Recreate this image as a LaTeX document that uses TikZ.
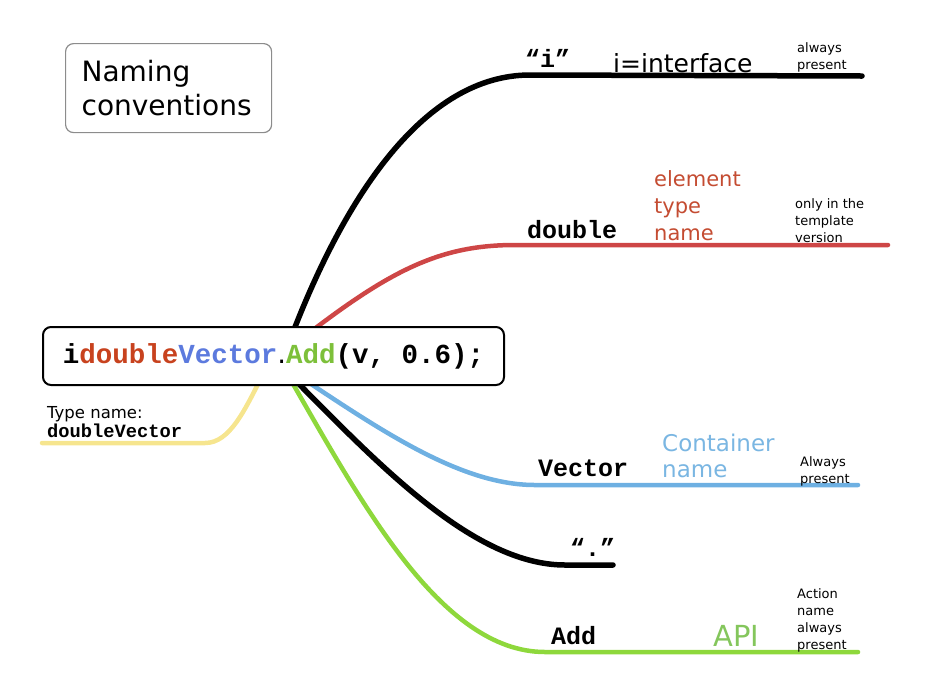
\documentclass[tikz,border=0pt]{standalone}
\usepackage{fontspec}
\setsansfont{DejaVu Sans}
\setmonofont{Liberation Mono}
\usetikzlibrary{backgrounds}

\definecolor{codered}{RGB}{200,66,30}
\definecolor{codeblue}{RGB}{92,122,222}
\definecolor{codegreen}{RGB}{125,192,58}
\definecolor{linered}{RGB}{206,70,70}
\definecolor{lineblue}{RGB}{110,176,226}
\definecolor{linegreen}{RGB}{142,216,60}
\definecolor{lineyellow}{RGB}{246,229,142}
\definecolor{textred}{RGB}{196,76,50}
\definecolor{textblue}{RGB}{122,182,226}
\definecolor{textgreen}{RGB}{132,198,92}

\begin{document}
\begin{tikzpicture}[x=1pt,y=-1pt,
  branch/.style={line width=4.5pt,line cap=round},
  code part/.style={font=\ttfamily\bfseries\fontsize{25}{25}\selectfont,inner sep=0pt,anchor=base west},
  part name/.style={font=\sffamily,inner sep=0pt,align=left,anchor=north west},
  note/.style={font=\sffamily\fontsize{13}{17}\selectfont,inner sep=0pt,align=left,anchor=north west}]
  \useasboundingbox (0,0) rectangle (928,697);

  \node[draw=black!45,line width=1.2pt,rounded corners=8pt,anchor=north west,
    minimum width=206pt,minimum height=89pt,text width=174pt,inner xsep=16pt,
    align=left,font=\sffamily\fontsize{28}{34}\selectfont] (title) at (65,43)
    {Naming\\conventions};

  \node[draw,line width=2pt,rounded corners=8pt,fill=white,anchor=north west,
    minimum width=461pt,minimum height=58pt,
    font=\ttfamily\bfseries\fontsize{27.5}{27.5}\selectfont] (code) at (42,326)
    {i\textcolor{codered}{double}\textcolor{codeblue}{Vector}{\sffamily\mdseries.}\textcolor{codegreen}{Add}(v, 0.6);};

  % labels
  \node[code part] (qi) at (525,67) {“i”};
  \node[part name,font=\sffamily\fontsize{25}{25}\selectfont,anchor=base west] (iface) at (613,72) {i=interface};
  \node[note] (alw1) at (797,42) {always\\present};

  \node[code part] (dbl) at (527,238) {double};
  \node[part name,text=textred,font=\sffamily\fontsize{21}{27}\selectfont] (elem) at (654,170) {element\\type\\name};
  \node[note] (tmpl) at (795,198) {only in the\\template\\version};

  \node[code part] (vec) at (538,476) {Vector};
  \node[part name,text=textblue,font=\sffamily\fontsize{23}{26}\selectfont] (cont) at (662,434) {Container\\name};
  \node[note] (alw2) at (800,456) {Always\\present};

  \node[code part] (dot) at (570,556) {“.”};

  \node[code part] (add) at (551,644) {Add};
  \node[part name,text=textgreen,font=\sffamily\fontsize{29}{29}\selectfont,anchor=base west] (api) at (713,646) {API};
  \node[note] (act) at (797,588) {Action\\name\\always\\present};

  \node[part name,font=\sffamily\fontsize{16.5}{19}\selectfont] (type) at (47,406)
    {Type name:\\{\ttfamily\bfseries\fontsize{18.75}{19}\selectfont doubleVector}};

  % branches
  \coordinate (iStart) at (290,340);
  \coordinate (iEnd) at (862,76);
  \coordinate (dblStart) at (300,340);
  \coordinate (dblEnd) at (888,245);
  \coordinate (vecStart) at (290,370);
  \coordinate (vecEnd) at (858,485);
  \coordinate (dotStart) at (285,370);
  \coordinate (dotEnd) at (613,565);
  \coordinate (addStart) at (285,370);
  \coordinate (addEnd) at (858,652);
  \coordinate (typeStart) at (265,370);
  \coordinate (typeEnd) at (42,443);

  \begin{scope}[on background layer]
    \draw[branch,line width=5.5pt] (iStart) .. controls (345,195) and (425,75) .. (530,75) -- (iEnd);
    \draw[branch,linered] (dblStart) .. controls (390,270) and (440,245) .. (515,245) -- (dblEnd);
    \draw[branch,lineblue] (vecStart) .. controls (380,430) and (460,485) .. (535,485) -- (vecEnd);
    \draw[branch,line width=5.5pt] (dotStart) .. controls (370,455) and (470,565) .. (565,565) -- (dotEnd);
    \draw[branch,linegreen] (addStart) .. controls (360,500) and (440,652) .. (545,652) -- (addEnd);
    \draw[branch,lineyellow] (typeStart) .. controls (245,410) and (230,443) .. (205,443) -- (typeEnd);
  \end{scope}
\end{tikzpicture}
\end{document}
